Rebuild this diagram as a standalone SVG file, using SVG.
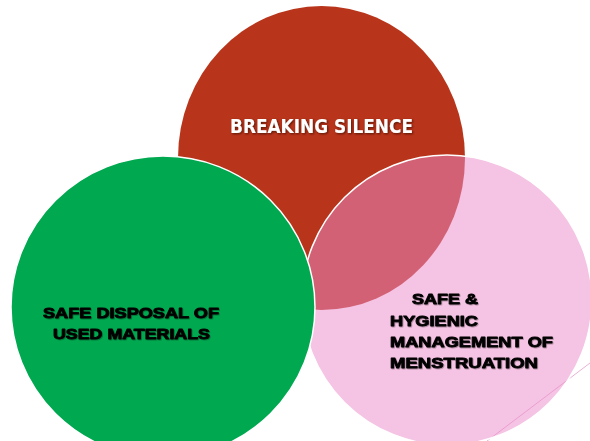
<svg xmlns="http://www.w3.org/2000/svg" width="590" height="441" viewBox="0 0 590 441">
  <defs>
    <style>
      .lbl-dark { font-family: "Liberation Sans", Arial, sans-serif; font-weight: bold; font-size: 15.5px; fill: #000; stroke: #000; stroke-width: 0.9px; stroke-linejoin: round; }
      .lbl-light { font-family: "DejaVu Sans", Verdana, sans-serif; font-weight: bold; font-size: 19.5px; fill: #ffffff; }
      .edge { stroke: #ffffff; stroke-width: 1.5; }
    </style>
    <filter id="shadow" x="-10%" y="-30%" width="120%" height="160%">
      <feDropShadow dx="1" dy="1" stdDeviation="0.8" flood-color="#3a0d05" flood-opacity="0.8"/>
    </filter>
    <filter id="shadowDark" x="-10%" y="-30%" width="120%" height="160%">
      <feDropShadow dx="0.8" dy="0.8" stdDeviation="0.6" flood-color="#000" flood-opacity="0.35"/>
    </filter>
  </defs>
  <rect width="590" height="441" fill="#ffffff"/>

  <g id="decor">
    <line x1="487" y1="441" x2="590" y2="363" stroke="#eab2d4" stroke-width="1"/>
  </g>

  <g id="breaking-silence">
    <ellipse cx="321.5" cy="158" rx="143.5" ry="152" fill="#B8341A"/>
  </g>

  <g id="safe-hygienic">
    <circle cx="447" cy="300" r="145" fill="#EC8CC9" fill-opacity="0.52" class="edge"/>
  </g>

  <g id="safe-disposal">
    <ellipse cx="163" cy="307" rx="152" ry="151" fill="#00A850" class="edge"/>
  </g>

  <g id="labels">
    <text class="lbl-light" x="321.5" y="133" text-anchor="middle" textLength="183" lengthAdjust="spacingAndGlyphs" filter="url(#shadow)">BREAKING SILENCE</text>
    <g filter="url(#shadowDark)">
      <text class="lbl-dark" x="131" y="318" text-anchor="middle" font-size="16.3" textLength="176" lengthAdjust="spacingAndGlyphs">SAFE DISPOSAL OF</text>
      <text class="lbl-dark" x="131.5" y="339" text-anchor="middle" font-size="16.3" textLength="157" lengthAdjust="spacingAndGlyphs">USED MATERIALS</text>
      <text class="lbl-dark" x="412" y="304" textLength="66" lengthAdjust="spacingAndGlyphs">SAFE &amp;</text>
      <text class="lbl-dark" x="390" y="326" textLength="88" lengthAdjust="spacingAndGlyphs">HYGIENIC</text>
      <text class="lbl-dark" x="390" y="347" textLength="163" lengthAdjust="spacingAndGlyphs">MANAGEMENT OF</text>
      <text class="lbl-dark" x="390" y="368" textLength="148" lengthAdjust="spacingAndGlyphs">MENSTRUATION</text>
    </g>
  </g>
</svg>
